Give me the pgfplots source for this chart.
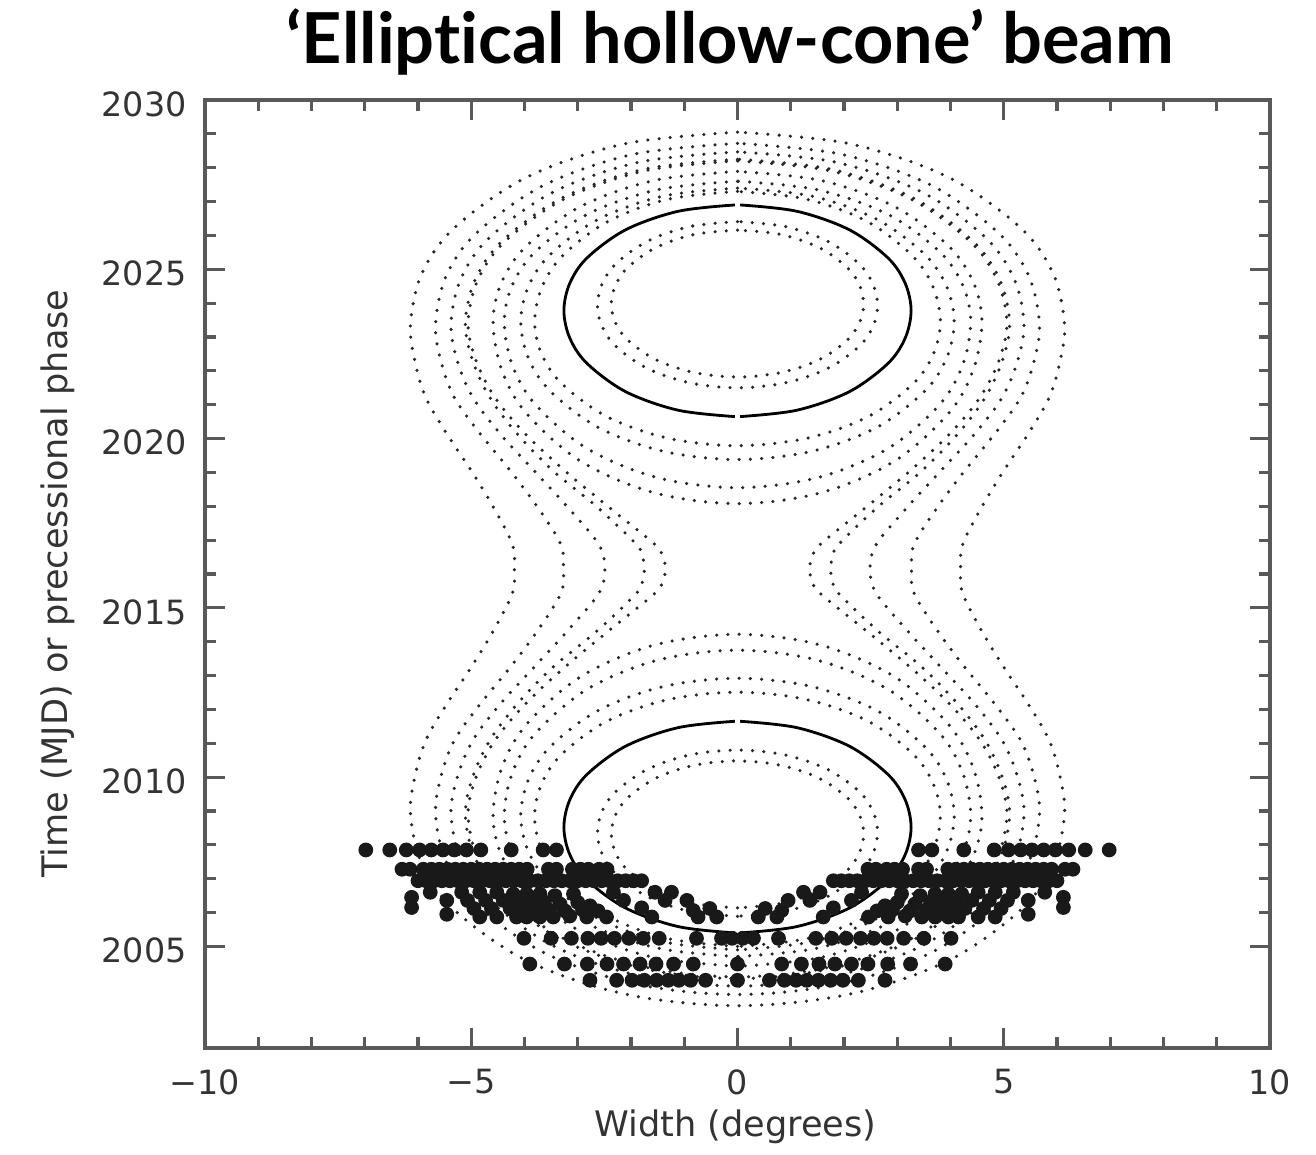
\documentclass[border=0pt]{standalone}
\usepackage{fontspec}
\setmainfont{DejaVu Sans}
\newfontfamily\titlefont{Lato}[Ligatures=NoCommon]
\usepackage{pgfplots}
\pgfplotsset{compat=1.18}
\pgfplotsset{
 dotc/.style={smooth, tension=0.55, black!85, line width=1.0pt, line cap=round, dash pattern=on 0pt off 3.2pt},
 solc/.style={smooth, tension=0.55, black, line width=0.8pt},
}
\begin{document}
\begin{tikzpicture}
\path[use as bounding box] (-20.5mm,-10.6mm) rectangle (111.1mm,104.8mm);
\begin{axis}[
 at={(0,0)}, anchor=south west,
 scale only axis, width=106.5mm, height=94.8mm,
 xmin=-10, xmax=10, ymin=2002, ymax=2030,
 xtick={-10,-5,0,5,10}, xticklabels={−10,−5,0,5,10},
 ytick={2005,2010,2015,2020,2025,2030}, yticklabels={2005,2010,2015,2020,2025,2030},
 minor x tick num=4, minor y tick num=4,
 tick align=inside, major tick length=2mm, minor tick length=1.1mm,
 axis line style={black!65, line width=1pt},
 every tick/.append style={black!65, line width=0.9pt},
 ticklabel style={font=\fontsize{9.5}{11}\selectfont, text=black!80},
 xticklabel style={yshift=-0.9mm},
 yticklabel style={xshift=-0.6mm, yshift=-0.4mm},
 xlabel={Width (degrees)}, ylabel={Time (MJD) or precessional phase},
 label style={font=\fontsize{10}{12}\selectfont, text=black!80},
 xlabel style={at={(axis description cs:0.498,-0.083)}, anchor=center},
 ylabel style={at={(axis description cs:-0.138,0.49)}, anchor=center},
]
% peanut curves
\addplot[dotc] coordinates {(0,2029.05) (-2.100,2028.711) (-3.948,2027.728) (-5.317,2026.225) (-5.931,2024.863) (-6.14,2023.4) (-6.062,2022.313) (-5.857,2021.225) (-5.458,2020.138) (-4.999,2019.05) (-4.58,2017.963) (-4.229,2016.875) (-4.19,2016.15) (-4.229,2015.425) (-4.58,2014.337) (-4.999,2013.25) (-5.458,2012.162) (-5.857,2011.075) (-6.062,2009.987) (-6.14,2008.9) (-5.931,2007.437) (-5.317,2006.075) (-3.948,2004.572) (-2.100,2003.589) (0,2003.25) (2.100,2003.589) (3.948,2004.572) (5.317,2006.075) (5.931,2007.437) (6.14,2008.9) (6.062,2009.987) (5.857,2011.075) (5.458,2012.162) (4.999,2013.25) (4.58,2014.337) (4.229,2015.425) (4.19,2016.15) (4.229,2016.875) (4.58,2017.963) (4.999,2019.05) (5.458,2020.138) (5.857,2021.225) (6.062,2022.313) (6.14,2023.4) (5.931,2024.863) (5.317,2026.225) (3.948,2027.728) (2.100,2028.711) (0,2029.05)};
\addplot[dotc] coordinates {(0,2028.72) (-1.939,2028.401) (-3.646,2027.475) (-4.910,2026.06) (-5.477,2024.778) (-5.67,2023.4) (-5.574,2022.313) (-5.322,2021.225) (-4.83,2020.138) (-4.266,2019.05) (-3.75,2017.963) (-3.318,2016.875) (-3.27,2016.15) (-3.318,2015.425) (-3.75,2014.337) (-4.266,2013.25) (-4.83,2012.162) (-5.322,2011.075) (-5.574,2009.987) (-5.67,2008.9) (-5.477,2007.522) (-4.910,2006.24) (-3.646,2004.825) (-1.939,2003.899) (0,2003.58) (1.939,2003.899) (3.646,2004.825) (4.910,2006.24) (5.477,2007.522) (5.67,2008.9) (5.574,2009.987) (5.322,2011.075) (4.83,2012.162) (4.266,2013.25) (3.75,2014.337) (3.318,2015.425) (3.27,2016.15) (3.318,2016.875) (3.75,2017.963) (4.266,2019.05) (4.83,2020.138) (5.322,2021.225) (5.574,2022.313) (5.67,2023.4) (5.477,2024.778) (4.910,2026.06) (3.646,2027.475) (1.939,2028.401) (0,2028.72)};
\addplot[dotc] coordinates {(0,2028.47) (-1.840,2028.166) (-3.459,2027.284) (-4.659,2025.935) (-5.197,2024.713) (-5.38,2023.4) (-5.264,2022.313) (-4.975,2021.225) (-4.455,2020.138) (-3.819,2019.05) (-3.184,2017.963) (-2.606,2016.875) (-2.49,2016.15) (-2.606,2015.425) (-3.184,2014.337) (-3.819,2013.25) (-4.455,2012.162) (-4.975,2011.075) (-5.264,2009.987) (-5.38,2008.9) (-5.197,2007.587) (-4.659,2006.365) (-3.459,2005.016) (-1.840,2004.134) (0,2003.83) (1.840,2004.134) (3.459,2005.016) (4.659,2006.365) (5.197,2007.587) (5.38,2008.9) (5.264,2009.987) (4.975,2011.075) (4.455,2012.162) (3.819,2013.25) (3.184,2014.337) (2.606,2015.425) (2.49,2016.15) (2.606,2016.875) (3.184,2017.963) (3.819,2019.05) (4.455,2020.138) (4.975,2021.225) (5.264,2022.313) (5.38,2023.4) (5.197,2024.713) (4.659,2025.935) (3.459,2027.284) (1.840,2028.166) (0,2028.47)};
\addplot[dotc] coordinates {(0,2028.25) (-1.748,2027.959) (-3.286,2027.115) (-4.425,2025.825) (-4.936,2024.656) (-5.11,2023.4) (-4.976,2022.313) (-4.656,2021.225) (-4.136,2020.138) (-3.464,2019.05) (-2.624,2017.963) (-1.901,2016.875) (-1.784,2016.513) (-1.75,2016.15) (-1.784,2015.787) (-1.901,2015.425) (-2.624,2014.337) (-3.464,2013.25) (-4.136,2012.162) (-4.656,2011.075) (-4.976,2009.987) (-5.11,2008.9) (-4.936,2007.644) (-4.425,2006.475) (-3.286,2005.185) (-1.748,2004.341) (0,2004.05) (1.748,2004.341) (3.286,2005.185) (4.425,2006.475) (4.936,2007.644) (5.11,2008.9) (4.976,2009.987) (4.656,2011.075) (4.136,2012.162) (3.464,2013.25) (2.624,2014.337) (1.901,2015.425) (1.784,2015.787) (1.75,2016.15) (1.784,2016.513) (1.901,2016.875) (2.624,2017.963) (3.464,2019.05) (4.136,2020.138) (4.656,2021.225) (4.976,2022.313) (5.11,2023.4) (4.936,2024.656) (4.425,2025.825) (3.286,2027.115) (1.748,2027.959) (0,2028.25)};
\addplot[dotc] coordinates {(0,2028.2) (-1.731,2027.912) (-3.254,2027.077) (-4.382,2025.8) (-4.888,2024.643) (-5.06,2023.4) (-4.912,2022.313) (-4.559,2021.225) (-3.984,2020.138) (-3.242,2019.05) (-2.407,2017.963) (-1.554,2016.875) (-1.406,2016.513) (-1.35,2016.15) (-1.406,2015.787) (-1.554,2015.425) (-2.407,2014.337) (-3.242,2013.25) (-3.984,2012.162) (-4.559,2011.075) (-4.912,2009.987) (-5.06,2008.9) (-4.888,2007.657) (-4.382,2006.5) (-3.254,2005.223) (-1.731,2004.388) (0,2004.1) (1.731,2004.388) (3.254,2005.223) (4.382,2006.5) (4.888,2007.657) (5.06,2008.9) (4.912,2009.987) (4.559,2011.075) (3.984,2012.162) (3.242,2013.25) (2.407,2014.337) (1.554,2015.425) (1.406,2015.787) (1.35,2016.15) (1.406,2016.513) (1.554,2016.875) (2.407,2017.963) (3.242,2019.05) (3.984,2020.138) (4.559,2021.225) (4.912,2022.313) (5.06,2023.4) (4.888,2024.643) (4.382,2025.8) (3.254,2027.077) (1.731,2027.912) (0,2028.2)};
% closed curves, upper lobe
\addplot[dotc] coordinates {(0,2027.89) (-1.570,2027.624) (-2.951,2026.851) (-3.975,2025.67) (-4.434,2024.60) (-4.59,2023.45) (-4.434,2022.059) (-3.975,2020.765) (-2.951,2019.337) (-1.570,2018.402) (0,2018.08) (1.570,2018.402) (2.951,2019.337) (3.975,2020.765) (4.434,2022.059) (4.59,2023.45) (4.434,2024.60) (3.975,2025.67) (2.951,2026.851) (1.570,2027.624) (0,2027.89)};
\addplot[dotc] coordinates {(0,2027.60) (-1.498,2027.351) (-2.816,2026.629) (-3.793,2025.525) (-4.231,2024.525) (-4.38,2023.45) (-4.231,2022.181) (-3.793,2021.00) (-2.816,2019.697) (-1.498,2018.844) (0,2018.55) (1.498,2018.844) (2.816,2019.697) (3.793,2021.00) (4.231,2022.181) (4.38,2023.45) (4.231,2024.525) (3.793,2025.525) (2.816,2026.629) (1.498,2027.351) (0,2027.60)};
\addplot[dotc] coordinates {(0,2027.40) (-1.392,2027.163) (-2.617,2026.476) (-3.525,2025.425) (-3.932,2024.473) (-4.07,2023.45) (-3.932,2022.396) (-3.525,2021.415) (-2.617,2020.332) (-1.392,2019.624) (0,2019.38) (1.392,2019.624) (2.617,2020.332) (3.525,2021.415) (3.932,2022.396) (4.07,2023.45) (3.932,2024.473) (3.525,2025.425) (2.617,2026.476) (1.392,2027.163) (0,2027.40)};
\addplot[dotc] coordinates {(0,2027.30) (-1.303,2027.069) (-2.450,2026.399) (-3.299,2025.375) (-3.680,2024.447) (-3.81,2023.45) (-3.680,2022.502) (-3.299,2021.62) (-2.450,2020.646) (-1.303,2020.01) (0,2019.79) (1.303,2020.01) (2.450,2020.646) (3.299,2021.62) (3.680,2022.502) (3.81,2023.45) (3.680,2024.447) (3.299,2025.375) (2.450,2026.399) (1.303,2027.069) (0,2027.30)};
% closed curves, lower lobe
\addplot[dotc] coordinates {(0,2004.41) (-1.570,2004.676) (-2.951,2005.449) (-3.975,2006.63) (-4.434,2007.70) (-4.59,2008.85) (-4.434,2010.241) (-3.975,2011.535) (-2.951,2012.963) (-1.570,2013.898) (0,2014.22) (1.570,2013.898) (2.951,2012.963) (3.975,2011.535) (4.434,2010.241) (4.59,2008.85) (4.434,2007.70) (3.975,2006.63) (2.951,2005.449) (1.570,2004.676) (0,2004.41)};
\addplot[dotc] coordinates {(0,2004.70) (-1.498,2004.949) (-2.816,2005.671) (-3.793,2006.775) (-4.231,2007.775) (-4.38,2008.85) (-4.231,2010.119) (-3.793,2011.30) (-2.816,2012.603) (-1.498,2013.456) (0,2013.75) (1.498,2013.456) (2.816,2012.603) (3.793,2011.30) (4.231,2010.119) (4.38,2008.85) (4.231,2007.775) (3.793,2006.775) (2.816,2005.671) (1.498,2004.949) (0,2004.70)};
\addplot[dotc] coordinates {(0,2004.90) (-1.392,2005.137) (-2.617,2005.824) (-3.525,2006.875) (-3.932,2007.827) (-4.07,2008.85) (-3.932,2009.904) (-3.525,2010.885) (-2.617,2011.968) (-1.392,2012.676) (0,2012.92) (1.392,2012.676) (2.617,2011.968) (3.525,2010.885) (3.932,2009.904) (4.07,2008.85) (3.932,2007.827) (3.525,2006.875) (2.617,2005.824) (1.392,2005.137) (0,2004.90)};
\addplot[dotc] coordinates {(0,2005.00) (-1.303,2005.231) (-2.450,2005.901) (-3.299,2006.925) (-3.680,2007.853) (-3.81,2008.85) (-3.680,2009.798) (-3.299,2010.68) (-2.450,2011.654) (-1.303,2012.29) (0,2012.51) (1.303,2012.29) (2.450,2011.654) (3.299,2010.68) (3.680,2009.798) (3.81,2008.85) (3.680,2007.853) (3.299,2006.925) (2.450,2005.901) (1.303,2005.231) (0,2005.00)};
% inner ellipses
\addplot[dotc] coordinates {(0,2026.41) (-0.899,2026.261) (-1.691,2025.830) (-2.278,2025.17) (-2.541,2024.572) (-2.63,2023.93) (-2.541,2023.301) (-2.278,2022.715) (-1.691,2022.069) (-0.899,2021.646) (0,2021.50) (0.899,2021.646) (1.691,2022.069) (2.278,2022.715) (2.541,2023.301) (2.63,2023.93) (2.541,2024.572) (2.278,2025.17) (1.691,2025.830) (0.899,2026.261) (0,2026.41)};
\addplot[dotc] coordinates {(0,2026.16) (-0.811,2026.029) (-1.524,2025.648) (-2.052,2025.065) (-2.289,2024.537) (-2.37,2023.97) (-2.289,2023.413) (-2.052,2022.895) (-1.524,2022.323) (-0.811,2021.949) (0,2021.82) (0.811,2021.949) (1.524,2022.323) (2.052,2022.895) (2.289,2023.413) (2.37,2023.97) (2.289,2024.537) (2.052,2025.065) (1.524,2025.648) (0.811,2026.029) (0,2026.16)};
\addplot[dotc] coordinates {(0,2005.89) (-0.899,2006.039) (-1.691,2006.47) (-2.278,2007.13) (-2.541,2007.728) (-2.63,2008.37) (-2.541,2008.999) (-2.278,2009.585) (-1.691,2010.231) (-0.899,2010.654) (0,2010.80) (0.899,2010.654) (1.691,2010.231) (2.278,2009.585) (2.541,2008.999) (2.63,2008.37) (2.541,2007.728) (2.278,2007.13) (1.691,2006.47) (0.899,2006.039) (0,2005.89)};
\addplot[dotc] coordinates {(0,2006.14) (-0.811,2006.271) (-1.524,2006.652) (-2.052,2007.235) (-2.289,2007.763) (-2.37,2008.33) (-2.289,2008.887) (-2.052,2009.405) (-1.524,2009.977) (-0.811,2010.351) (0,2010.48) (0.811,2010.351) (1.524,2009.977) (2.052,2009.405) (2.289,2008.887) (2.37,2008.33) (2.289,2007.763) (2.052,2007.235) (1.524,2006.652) (0.811,2006.271) (0,2006.14)};
% solid rings
\addplot[solc] coordinates {(-0.05,2026.90) (-1.115,2026.713) (-2.096,2026.170) (-2.823,2025.34) (-3.149,2024.588) (-3.26,2023.78) (-3.149,2022.969) (-2.823,2022.215) (-2.096,2021.382) (-1.115,2020.838) (-0.05,2020.65)};
\addplot[solc] coordinates {(0.05,2026.90) (1.115,2026.713) (2.096,2026.170) (2.823,2025.34) (3.149,2024.588) (3.26,2023.78) (3.149,2022.969) (2.823,2022.215) (2.096,2021.382) (1.115,2020.838) (0.05,2020.65)};
\addplot[solc] coordinates {(-0.05,2005.40) (-1.115,2005.587) (-2.096,2006.13) (-2.823,2006.96) (-3.149,2007.712) (-3.26,2008.52) (-3.149,2009.331) (-2.823,2010.085) (-2.096,2010.918) (-1.115,2011.462) (-0.05,2011.65)};
\addplot[solc] coordinates {(0.05,2005.40) (1.115,2005.587) (2.096,2006.13) (2.823,2006.96) (3.149,2007.712) (3.26,2008.52) (3.149,2009.331) (2.823,2010.085) (2.096,2010.918) (1.115,2011.462) (0.05,2011.65)};
% observed points
\addplot[only marks, mark=*, mark size=1.9pt, black!90] coordinates {
(-6.98,2007.85) (-6.53,2007.85) (-6.22,2007.85) (-5.97,2007.85) (-5.75,2007.85) (-5.53,2007.85) (-5.32,2007.85) (-5.09,2007.85) (-4.82,2007.85) (-4.25,2007.85) (-3.65,2007.85) (-3.40,2007.85)
(6.98,2007.85) (6.53,2007.85) (6.22,2007.85) (5.97,2007.85) (5.75,2007.85) (5.53,2007.85) (5.32,2007.85) (5.09,2007.85) (4.82,2007.85) (4.25,2007.85) (3.65,2007.85) (3.40,2007.85)
(-6.30,2007.28) (-6.15,2007.28) (-5.90,2007.28) (-5.75,2007.28) (-5.60,2007.28) (-5.45,2007.28) (-5.30,2007.28) (-5.15,2007.28) (-5.00,2007.28) (-4.85,2007.28) (-4.70,2007.28) (-4.55,2007.28) (-4.40,2007.28) (-4.25,2007.28) (-4.10,2007.28) (-3.95,2007.28) (-3.55,2007.28) (-3.40,2007.28) (-3.10,2007.28) (-2.95,2007.28) (-2.80,2007.28) (-2.60,2007.28) (-2.45,2007.28)
(6.30,2007.28) (6.15,2007.28) (5.90,2007.28) (5.75,2007.28) (5.60,2007.28) (5.45,2007.28) (5.30,2007.28) (5.15,2007.28) (5.00,2007.28) (4.85,2007.28) (4.70,2007.28) (4.55,2007.28) (4.40,2007.28) (4.25,2007.28) (4.10,2007.28) (3.95,2007.28) (3.55,2007.28) (3.40,2007.28) (3.10,2007.28) (2.95,2007.28) (2.80,2007.28) (2.60,2007.28) (2.45,2007.28)
(-6.00,2006.94) (-5.85,2006.94) (-5.70,2006.94) (-5.55,2006.94) (-5.40,2006.94) (-5.25,2006.94) (-5.10,2006.94) (-4.95,2006.94) (-4.80,2006.94) (-4.65,2006.94) (-4.50,2006.94) (-4.35,2006.94) (-4.20,2006.94) (-4.05,2006.94) (-3.90,2006.94) (-3.75,2006.94) (-3.60,2006.94) (-3.45,2006.94) (-3.30,2006.94) (-3.15,2006.94) (-3.00,2006.94) (-2.85,2006.94) (-2.70,2006.94) (-2.55,2006.94) (-2.40,2006.94) (-2.25,2006.94) (-2.10,2006.94) (-1.95,2006.94) (-1.80,2006.94)
(6.00,2006.94) (5.85,2006.94) (5.70,2006.94) (5.55,2006.94) (5.40,2006.94) (5.25,2006.94) (5.10,2006.94) (4.95,2006.94) (4.80,2006.94) (4.65,2006.94) (4.50,2006.94) (4.35,2006.94) (4.20,2006.94) (4.05,2006.94) (3.90,2006.94) (3.75,2006.94) (3.60,2006.94) (3.45,2006.94) (3.30,2006.94) (3.15,2006.94) (3.00,2006.94) (2.85,2006.94) (2.70,2006.94) (2.55,2006.94) (2.40,2006.94) (2.25,2006.94) (2.10,2006.94) (1.95,2006.94) (1.80,2006.94)
(-6.12,2006.45) (-6.12,2006.15) (-5.77,2006.6) (-5.46,2006.36) (-5.46,2005.95)
(-5.18,2006.6) (-5.07,2006.36) (-4.95,2006.12) (-4.84,2005.87)
(-4.84,2006.6) (-4.73,2006.36) (-4.62,2006.12) (-4.52,2005.87)
(-4.52,2006.6) (-4.40,2006.36) (-4.27,2006.12) (-4.15,2005.87)
(-4.21,2006.55) (-4.12,2006.3) (-4.04,2006.08) (-3.96,2005.87)
(-3.96,2006.55) (-3.88,2006.3) (-3.79,2006.08) (-3.71,2005.87)
(-3.71,2006.55) (-3.63,2006.3) (-3.54,2006.08) (-3.46,2005.87)
(-3.43,2006.5) (-3.33,2006.25) (-3.24,2006.05) (-3.15,2005.9)
(-3.08,2006.55) (-3.00,2006.3) (-2.91,2006.08) (-2.83,2005.87)
(-2.77,2006.2) (-2.62,2006.05) (-2.46,2005.87)
(6.12,2006.45) (6.12,2006.15) (5.77,2006.6) (5.46,2006.36) (5.46,2005.95)
(5.18,2006.6) (5.07,2006.36) (4.95,2006.12) (4.84,2005.87)
(4.84,2006.6) (4.73,2006.36) (4.62,2006.12) (4.52,2005.87)
(4.52,2006.6) (4.40,2006.36) (4.27,2006.12) (4.15,2005.87)
(4.21,2006.55) (4.12,2006.3) (4.04,2006.08) (3.96,2005.87)
(3.96,2006.55) (3.88,2006.3) (3.79,2006.08) (3.71,2005.87)
(3.71,2006.55) (3.63,2006.3) (3.54,2006.08) (3.46,2005.87)
(3.43,2006.5) (3.33,2006.25) (3.24,2006.05) (3.15,2005.9)
(3.08,2006.55) (3.00,2006.3) (2.91,2006.08) (2.83,2005.87)
(2.77,2006.2) (2.62,2006.05) (2.46,2005.87)
(-2.33,2006.6) (-2.14,2006.36) (-1.80,2006.14) (-1.61,2005.87) (-1.55,2006.6) (-1.36,2006.36) (-1.24,2006.6) (-0.95,2006.36) (-0.83,2006.06) (-0.74,2005.87) (-0.52,2006.12) (-0.39,2005.87)
(2.33,2006.6) (2.14,2006.36) (1.80,2006.14) (1.61,2005.87) (1.55,2006.6) (1.36,2006.36) (1.24,2006.6) (0.95,2006.36) (0.83,2006.06) (0.74,2005.87) (0.52,2006.12) (0.39,2005.87)
(-0.10,2005.24) (-0.30,2005.24) (-0.77,2005.24) (-1.47,2005.24) (-1.77,2005.24) (-2.04,2005.24) (-2.31,2005.24) (-2.56,2005.24) (-2.81,2005.24) (-3.12,2005.24) (-3.50,2005.24) (-4.01,2005.24)
(0.10,2005.24) (0.30,2005.24) (0.77,2005.24) (1.47,2005.24) (1.77,2005.24) (2.04,2005.24) (2.31,2005.24) (2.56,2005.24) (2.81,2005.24) (3.12,2005.24) (3.50,2005.24) (4.01,2005.24)
(0,2004.48) (-0.83,2004.48) (-1.20,2004.48) (-1.53,2004.48) (-1.83,2004.48) (-2.14,2004.48) (-2.45,2004.48) (-2.82,2004.48) (-3.25,2004.48) (-3.90,2004.48)
(0.83,2004.48) (1.20,2004.48) (1.53,2004.48) (1.83,2004.48) (2.14,2004.48) (2.45,2004.48) (2.82,2004.48) (3.25,2004.48) (3.90,2004.48)
(0,2004.0) (-0.60,2004.0) (-0.88,2004.0) (-1.10,2004.0) (-1.30,2004.0) (-1.52,2004.0) (-1.75,2004.0) (-1.98,2004.0) (-2.27,2004.0) (-2.77,2004.0)
(0.60,2004.0) (0.88,2004.0) (1.10,2004.0) (1.30,2004.0) (1.52,2004.0) (1.75,2004.0) (1.98,2004.0) (2.27,2004.0) (2.77,2004.0)
};
\end{axis}
\node[font=\titlefont\bfseries\fontsize{20}{24}\selectfont] at (52.5mm,100.6mm) {‘Elliptical hollow-cone’ beam};
\end{tikzpicture}
\end{document}
